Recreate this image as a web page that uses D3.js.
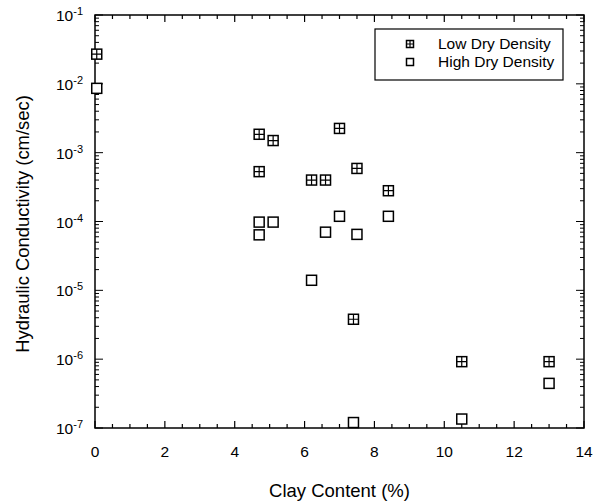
<!DOCTYPE html>
<html>
<head>
<meta charset="utf-8">
<script src="https://cdn.jsdelivr.net/npm/d3@7"></script>
<style>
  body { margin: 0; background: #fff; }
  text { font-family: "Liberation Sans", Arial, sans-serif; fill: #000; }
</style>
</head>
<body>
<svg id="chart" width="593" height="504"></svg>
<script>
// clay content (%) and hydraulic conductivity (cm/sec)
const lowClay = [0.05, 4.7, 5.1, 7.0, 4.7, 7.5, 6.2, 6.6, 8.4, 7.4, 10.5, 13.0];
const lowK    = [2.7e-2, 1.85e-3, 1.5e-3, 2.25e-3, 5.3e-4, 5.9e-4, 4.0e-4, 4.0e-4, 2.8e-4, 3.8e-6, 9.2e-7, 9.2e-7];
const highClay = [0.05, 4.7, 5.1, 4.7, 7.0, 8.4, 6.6, 7.5, 6.2, 7.4, 10.5, 13.0];
const highK    = [8.6e-3, 9.8e-5, 9.8e-5, 6.4e-5, 1.19e-4, 1.19e-4, 7.0e-5, 6.5e-5, 1.4e-5, 1.2e-7, 1.35e-7, 4.45e-7];
const xTicks = [0, 2, 4, 6, 8, 10, 12, 14];
const yExponents = [-1, -2, -3, -4, -5, -6, -7];
const seriesNames = ["Low Dry Density", "High Dry Density"];

const svg = d3.select("#chart");
const margin = { top: 15, right: 9, bottom: 76, left: 95 };
const width = 593 - margin.left - margin.right;
const height = 504 - margin.top - margin.bottom;

const g = svg.append("g").attr("transform", `translate(${margin.left},${margin.top})`);

const x = d3.scaleLinear().domain([0, 14]).range([0, width]);
const y = d3.scaleLog().domain([1e-7, 1e-1]).range([height, 0]);

// frame
g.append("rect")
    .attr("width", width).attr("height", height)
    .attr("fill", "none").attr("stroke", "#000").attr("stroke-width", 1.5);

// x ticks (inward, bottom and top)
const xMinor = d3.range(0, 14.01, 0.5).filter(v => v % 2 !== 0);
[[xTicks, 7], [xMinor, 4]].forEach(([vals, len]) => {
    g.selectAll(null).data(vals).enter().append("line")
        .attr("x1", d => x(d)).attr("x2", d => x(d))
        .attr("y1", height).attr("y2", height - len)
        .attr("stroke", "#000").attr("stroke-width", 1.2);
    g.selectAll(null).data(vals).enter().append("line")
        .attr("x1", d => x(d)).attr("x2", d => x(d))
        .attr("y1", 0).attr("y2", len)
        .attr("stroke", "#000").attr("stroke-width", 1.2);
});

g.selectAll(".xlab").data(xTicks).enter().append("text")
    .attr("class", "xlab")
    .attr("x", d => x(d)).attr("y", height + 29)
    .attr("text-anchor", "middle")
    .style("font-size", "15.5px")
    .text(d => d);

// y ticks (inward, left and right)
const yMajor = yExponents.map(e => Math.pow(10, e));
const yMinor = [];
yExponents.slice(1).forEach(e => {
    for (let m = 2; m <= 9; m++) yMinor.push(m * Math.pow(10, e));
});
[[yMajor, 8], [yMinor, 4]].forEach(([vals, len]) => {
    g.selectAll(null).data(vals).enter().append("line")
        .attr("x1", 0).attr("x2", len)
        .attr("y1", d => y(d)).attr("y2", d => y(d))
        .attr("stroke", "#000").attr("stroke-width", 1);
    g.selectAll(null).data(vals).enter().append("line")
        .attr("x1", width).attr("x2", width - len)
        .attr("y1", d => y(d)).attr("y2", d => y(d))
        .attr("stroke", "#000").attr("stroke-width", 1);
});

const ylab = g.selectAll(".ylab").data(yExponents).enter().append("text")
    .attr("class", "ylab")
    .attr("x", -12).attr("y", d => y(Math.pow(10, d)) + 6)
    .attr("text-anchor", "end")
    .style("font-size", "15.5px");
ylab.append("tspan").text("10");
ylab.append("tspan").attr("dy", -6).style("font-size", "11px").text(d => "-" + (-d));

// axis titles
svg.append("text")
    .attr("x", margin.left + width / 2).attr("y", 497)
    .attr("text-anchor", "middle")
    .style("font-size", "18.5px")
    .text("Clay Content (%)");

svg.append("text")
    .attr("transform", "translate(29,224) rotate(-90)")
    .attr("text-anchor", "middle")
    .style("font-size", "18.4px")
    .text("Hydraulic Conductivity (cm/sec)");

// markers
function marker(sel, s, crossed) {
    sel.append("rect")
        .attr("x", -s / 2).attr("y", -s / 2).attr("width", s).attr("height", s)
        .attr("fill", "#fff").attr("stroke", "#000").attr("stroke-width", 1.5);
    if (crossed) {
        sel.append("path")
            .attr("d", `M${-s / 2},0H${s / 2}M0,${-s / 2}V${s / 2}`)
            .attr("stroke", "#000").attr("stroke-width", 1.2);
    }
}

const lowData = lowClay.map((c, i) => ({ c, k: lowK[i] }));
const highData = highClay.map((c, i) => ({ c, k: highK[i] }));

g.selectAll(".high").data(highData).enter().append("g")
    .attr("class", "high")
    .attr("transform", d => `translate(${x(d.c)},${y(d.k)})`)
    .each(function () { marker(d3.select(this), 10, false); });

g.selectAll(".low").data(lowData).enter().append("g")
    .attr("class", "low")
    .attr("transform", d => `translate(${x(d.c)},${y(d.k)})`)
    .each(function () { marker(d3.select(this), 10, true); });

// legend
const legend = svg.append("g").attr("transform", "translate(375,29)");
legend.append("rect")
    .attr("width", 188).attr("height", 51)
    .attr("fill", "#fff").attr("stroke", "#000").attr("stroke-width", 1.2);
seriesNames.forEach((name, i) => {
    const row = legend.append("g").attr("transform", `translate(35,${15 + i * 18})`);
    marker(row, 7, i === 0);
    row.append("text")
        .attr("x", 28).attr("y", 5)
        .style("font-size", "15.5px")
        .text(name);
});
</script>
</body>
</html>
